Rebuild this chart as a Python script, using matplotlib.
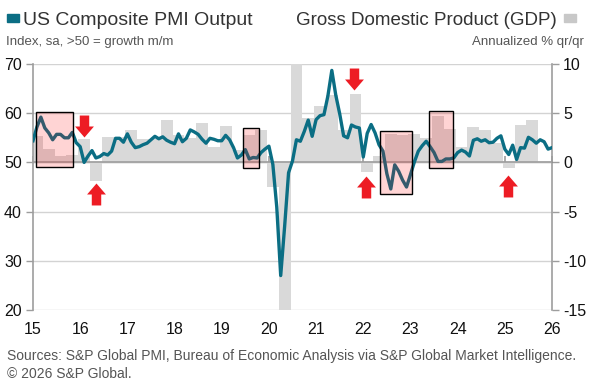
import numpy as np
import matplotlib.pyplot as plt
from matplotlib.patches import Rectangle
from matplotlib.path import Path

# US Composite PMI Output, monthly, Jan 2015 .. Jan 2026
pmi = [54.4, 57.2, 59.2, 57.0, 56.0, 54.6, 55.7, 55.7, 55.0, 55.0, 56.1, 54.0,
       53.2, 50.0, 51.3, 52.4, 50.9, 51.2, 51.8, 51.5, 52.3, 54.9, 54.9, 54.1,
       55.8, 54.1, 53.0, 53.2, 53.6, 53.9, 54.6, 55.3, 54.8, 55.2, 54.5, 54.1,
       53.8, 55.8, 54.2, 54.9, 56.6, 56.2, 55.7, 54.7, 53.9, 54.9, 54.7, 54.4,
       54.4, 55.5, 54.6, 53.0, 50.9, 51.5, 52.6, 50.7, 51.0, 50.9, 52.0, 52.7,
       53.3, 49.6, 40.9, 27.0, 37.0, 47.9, 50.3, 54.6, 54.3, 56.3, 58.6, 55.3,
       58.7, 59.5, 59.7, 63.5, 68.7, 63.7, 59.9, 55.4, 55.0, 57.6, 57.2, 57.0,
       51.1, 55.9, 57.7, 56.0, 53.6, 52.3, 47.7, 44.6, 49.5, 48.2, 46.4, 45.0,
       47.5, 50.1, 52.3, 53.4, 54.3, 53.2, 52.0, 50.2, 50.2, 50.7, 50.7, 50.9,
       52.0, 52.5, 52.1, 51.3, 54.5, 54.8, 54.3, 54.6, 54.0, 54.1, 54.9, 55.4,
       52.7, 51.6, 53.5, 50.6, 53.0, 52.9, 55.1, 54.6, 53.9, 54.6, 54.2, 52.7,
       53.0]

# GDP, annualized % q/q, 2015Q1 .. 2025Q3
gdp = [2.7, 1.4, 0.7, 0.8,
       2.4, -1.9, 2.6, 2.6,
       3.3, 2.4, 2.4, 4.3,
       2.8, 2.5, 4.0, 1.6,
       3.7, 1.3, 2.8, 3.3,
       -2.5, -28.0, 34.8, 4.5,
       5.7, 6.9, 3.3, 7.0,
       -1.0, 0.6, 2.9, 2.8,
       2.9, 2.45, 4.75, 3.4,
       1.6, 3.6, 3.3, 2.0,
       -0.6, 3.8, 4.3]

year_labels = ['15', '16', '17', '18', '19', '20', '21', '22', '23', '24', '25', '26']

# highlighted periods: (start month, end month, pmi low, pmi high)
boxes = [(0.7, 10.1, 49.0, 60.3),
         (53.5, 57.5, 48.8, 56.9),
         (88.3, 96.4, 43.5, 56.4),
         (100.6, 106.8, 48.8, 60.4)]
# red arrows: (month, pmi level, direction)
arrows = [(12.9, 57.5, 'down'), (15.9, 43.5, 'up'),
          (81.6, 66.9, 'down'), (84.6, 45.1, 'up'),
          (120.8, 45.3, 'up')]

teal = '#0b6e84'
grey_bar = '#d9d9d9'
axis_grey = '#9d9d9d'
txt = '#333333'

plt.rcParams['font.family'] = ['Liberation Sans', 'DejaVu Sans']
plt.rcParams['axes.unicode_minus'] = False

fig = plt.figure(figsize=(5.95, 3.9), dpi=100)
ax = fig.add_axes([33 / 595, 80 / 390, 519 / 595, 246 / 390])
ax2 = ax.twinx()

months = np.arange(len(pmi))
q_centers = np.arange(len(gdp)) * 3 + 1

# GDP bars on the primary axes (right scale)
ax.bar(q_centers, gdp, width=3, color=grey_bar, zorder=2)
ax.set_ylim(-15, 10)
ax.set_xlim(0, 132)
ax.set_yticks([-15, -10, -5, 0, 5, 10])
ax.yaxis.tick_right()
ax.yaxis.grid(True, color='#d3d3d3', lw=1.0)
ax.set_axisbelow(True)
ax.axhline(0, color=axis_grey, lw=1.2, zorder=3)
ax.set_xticks(np.arange(0, 133, 12))
ax.set_xticklabels(year_labels)
ax.tick_params(axis='x', length=0, pad=9, labelsize=11.5, labelcolor='#111111')
ax.tick_params(axis='y', direction='out', length=5, width=1, color=axis_grey,
               pad=3, labelsize=11.5, labelcolor='#111111')
for s in ['top', 'bottom', 'left']:
    ax.spines[s].set_visible(False)
ax.spines['right'].set_color(axis_grey)
ax.spines['right'].set_linewidth(1.2)

# year ticks sitting on the zero line
sec = ax.secondary_xaxis(0.6)
sec.set_xticks(np.arange(0, 133, 12))
sec.set_xticklabels([])
sec.tick_params(axis='x', direction='out', length=4, width=1.2, color=axis_grey)
sec.spines['bottom'].set_visible(False)

# PMI line on the twin axes (left scale)
ax2.set_ylim(20, 70)
ax2.set_yticks([20, 30, 40, 50, 60, 70])
ax2.yaxis.tick_left()
ax2.tick_params(axis='y', direction='out', length=5, width=1, color=axis_grey,
                pad=3, labelsize=11.5, labelcolor='#111111')
for s in ['top', 'bottom', 'right']:
    ax2.spines[s].set_visible(False)
ax2.spines['left'].set_color(axis_grey)
ax2.spines['left'].set_linewidth(1.2)
ax2.plot(months, pmi, color=teal, lw=2.4, solid_joinstyle='round', zorder=3)

for x0, x1, y0, y1 in boxes:
    ax2.add_patch(Rectangle((x0, y0), x1 - x0, y1 - y0, facecolor=(1, 0, 0, 0.17),
                            edgecolor='black', lw=1.0, zorder=4))

up = Path([(-0.215, -0.5), (0.215, -0.5), (0.215, 0.0), (0.43, 0.0), (0, 0.5),
           (-0.43, 0.0), (-0.215, 0.0), (-0.215, -0.5)])
down = Path([(x, -y) for x, y in up.vertices])
for mx, my, d in arrows:
    ax2.plot(mx, my, marker=up if d == 'up' else down, markersize=15.8,
             color='#ed1c24', markeredgewidth=0, zorder=5, clip_on=False)

# header
fig.patches.append(Rectangle((7 / 595, 1 - 22 / 390), 12 / 595, 8 / 390,
                             transform=fig.transFigure, color=teal))
fig.patches.append(Rectangle((564 / 595, 1 - 22 / 390), 12 / 595, 8 / 390,
                             transform=fig.transFigure, color='#c8c8c8'))
fig.text(23 / 595, 1 - 25 / 390, 'US Composite PMI Output', fontsize=14,
         color=txt, va='baseline', ha='left')
fig.text(557 / 595, 1 - 25 / 390, 'Gross Domestic Product (GDP)', fontsize=13.5,
         color=txt, va='baseline', ha='right')
fig.text(6 / 595, 1 - 45 / 390, 'Index, sa, >50 = growth m/m', fontsize=9.5,
         color='#555555', va='baseline', ha='left')
fig.text(584 / 595, 1 - 45 / 390, 'Annualized % qr/qr', fontsize=9.5,
         color='#555555', va='baseline', ha='right')

# footer
fig.text(7 / 595, 1 - 360 / 390,
         'Sources: S&P Global PMI, Bureau of Economic Analysis via S&P Global Market Intelligence.',
         fontsize=10, color='#555555', va='baseline', ha='left')
fig.text(7 / 595, 1 - 378 / 390, '\u00a9 2026 S&P Global.', fontsize=10,
         color='#555555', va='baseline', ha='left')

fig.savefig('out.png', dpi=100)
